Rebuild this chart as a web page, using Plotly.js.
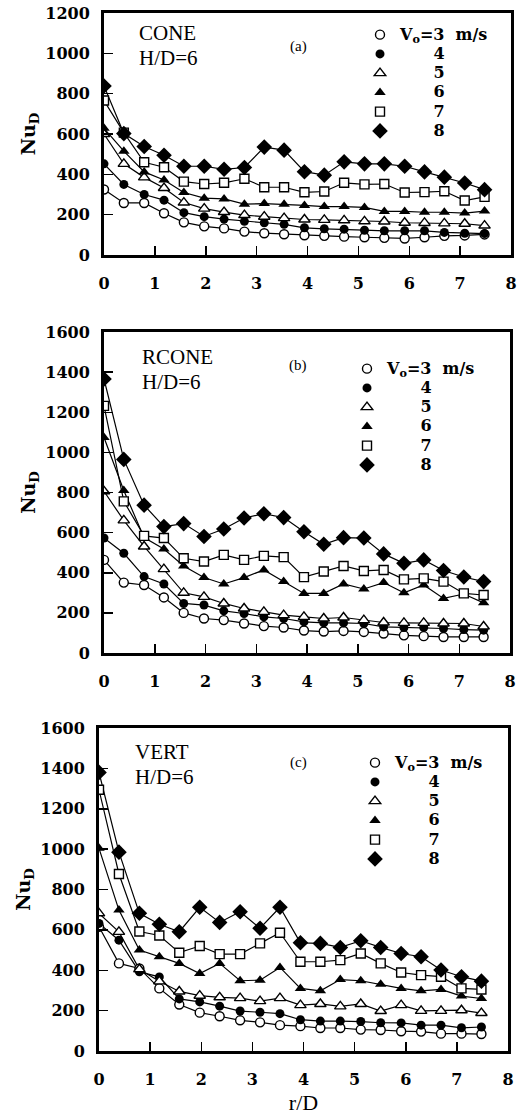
<!DOCTYPE html>
<html>
<head>
<meta charset="utf-8">
<script src="https://cdn.plot.ly/plotly-3.0.1.min.js"></script>
<style>html,body{margin:0;padding:0;background:#fff;}#chart{width:518px;height:1115px;}</style>
</head>
<body>
<div id="chart"></div>
<script>
// r/D positions (shared by all panels)
const rD = [0,0.39,0.79,1.18,1.57,1.97,2.36,2.76,3.15,3.54,3.94,4.33,4.72,5.12,5.51,5.91,6.30,6.69,7.09,7.48];

// Panel (a) CONE, H/D=6
const coneV3 = [325,258,258,207,162,142,132,116,108,103,98,95,91,88,85,82,88,95,97,102];
const coneV4 = [452,350,300,272,210,190,178,167,160,152,135,130,128,123,120,120,120,112,108,106];
const coneV5 = [600,452,385,332,260,230,213,198,190,183,176,174,172,167,166,160,159,157,155,146];
const coneV6 = [628,515,412,372,310,282,278,252,255,252,246,240,240,236,216,216,212,212,208,218];
const coneV7 = [766,607,460,435,364,352,358,378,336,336,311,315,358,350,352,310,312,316,270,288];
const coneV8 = [838,602,538,495,440,440,425,434,535,520,413,396,462,452,452,440,412,386,357,324];

// Panel (b) RCONE, H/D=6
const rconeV3 = [464,351,339,277,200,172,164,147,134,127,112,107,110,105,97,88,84,80,80,80];
const rconeV4 = [573,497,381,344,247,239,210,197,180,172,155,150,150,147,130,127,127,122,117,114];
const rconeV5 = [806,661,531,418,300,280,247,222,205,189,180,172,177,164,152,150,150,147,147,132];
const rconeV6 = [1074,810,575,518,434,376,344,376,414,356,297,297,344,319,351,300,339,272,294,250];
const rconeV7 = [1232,756,584,573,472,456,489,464,484,478,378,406,434,409,414,367,372,356,297,289];
const rconeV8 = [1366,965,737,630,645,581,618,673,694,675,604,542,575,573,494,447,464,411,379,356];

// Panel (c) VERT, H/D=6
const vertV3 = [615,434,409,310,230,190,172,152,142,128,123,114,114,106,104,98,96,86,86,84];
const vertV4 = [632,549,392,367,258,243,222,198,192,185,155,148,148,146,140,139,128,128,115,119];
const vertV5 = [682,590,405,345,295,274,266,262,247,262,227,233,221,233,198,227,199,199,202,188];
const vertV6 = [1004,698,500,467,434,384,434,348,351,414,310,298,354,348,331,310,298,305,272,260];
const vertV7 = [1294,877,592,572,487,520,480,480,533,586,442,442,450,483,434,389,376,368,310,305];
const vertV8 = [1380,985,682,628,591,712,637,690,608,712,536,533,513,546,513,483,467,401,368,346];

const speeds = ['3','4','5','6','7','8'];
const panelNames = ['CONE','RCONE','VERT'];
const panelTags = ['(a)','(b)','(c)'];
const xTicks = [0,1,2,3,4,5,6,7,8];

const panels = [
  [coneV3,coneV4,coneV5,coneV6,coneV7,coneV8],
  [rconeV3,rconeV4,rconeV5,rconeV6,rconeV7,rconeV8],
  [vertV3,vertV4,vertV5,vertV6,vertV7,vertV8]
];

const W = 518, H = 1115;
const markerStyles = [
  {symbol:'circle', size:9, color:'white', line:{color:'black', width:1.4}},
  {symbol:'circle', size:9, color:'black', line:{color:'black', width:0}},
  {symbol:'triangle-up', size:10, color:'white', line:{color:'black', width:1.4}},
  {symbol:'triangle-up', size:10, color:'black', line:{color:'black', width:0}},
  {symbol:'square', size:9, color:'white', line:{color:'black', width:1.4}},
  {symbol:'diamond', size:12, color:'black', line:{color:'black', width:0}}
];
const NB = '\u00a0';
function legendLabel(i){
  const t = i === 0 ? 'V<sub>o</sub>=3' + NB + NB + 'm/s' : NB.repeat(6) + speeds[i];
  return '<span style="font-size:16px">' + t + '</span>';
}

const traces = [];
panels.forEach((series, p) => {
  const sfx = p === 0 ? '' : String(p + 1);
  // connecting lines (not in legend)
  series.forEach((vals) => {
    traces.push({
      x: rD, y: vals, type:'scatter', mode:'lines',
      xaxis:'x' + sfx, yaxis:'y' + sfx, showlegend:false,
      line:{color:'black', width:1.2}, hoverinfo:'skip'
    });
  });
  // markers (in legend)
  series.forEach((vals, i) => {
    traces.push({
      x: rD, y: vals, type:'scatter', mode:'markers',
      xaxis:'x' + sfx, yaxis:'y' + sfx,
      legend: 'legend' + sfx,
      name: legendLabel(i),
      marker: markerStyles[i]
    });
  });
});

// pixel boxes of the three panels [left,right,top,bottom]
const boxes = [[104,511,13,255],[104,510,332,653],[99,508,728,1051]];
const yMax = [1200,1600,1600];
const tickFont = {family:'DejaVu Serif', size:16, color:'black', weight:'bold'};

const layout = {
  width:W, height:H, margin:{l:0,r:0,t:0,b:0},
  paper_bgcolor:'white', plot_bgcolor:'white', showlegend:true,
  font:{family:'DejaVu Serif', color:'black'},
  annotations:[]
};
const legendPos = [[360,20],[347,354],[355,748]];
const labelPos = [[137,33,58],[140,357,382],[133,752,777]];
boxes.forEach((b, p) => {
  const sfx = p === 0 ? '' : String(p + 1);
  const xa = {
    domain:[b[0]/W, b[1]/W], range:[0,8], anchor:'y' + sfx,
    tickvals:xTicks, ticktext:xTicks.map(String),
    ticks:'inside', ticklen:9, tickwidth:1.5, tickcolor:'black',
    showline:true, mirror:true, linewidth:3, linecolor:'black',
    showgrid:false, zeroline:false, tickfont:tickFont, ticklabelstandoff:12
  };
  if (p === 2) xa.title = {text:'r/D', font:{family:'Liberation Serif', size:22, color:'black'}, standoff:14};
  layout['xaxis' + sfx] = xa;
  const yt = [];
  for (let v = 0; v <= yMax[p]; v += 200) yt.push(v);
  layout['yaxis' + sfx] = {
    domain:[1 - b[3]/H, 1 - b[2]/H], range:[0, yMax[p]], anchor:'x' + sfx,
    tickvals:yt, ticktext:yt.map(String),
    ticks:'inside', ticklen:9, tickwidth:1.5, tickcolor:'black',
    showline:true, mirror:true, linewidth:3, linecolor:'black',
    showgrid:false, zeroline:false, tickfont:tickFont, ticklabelstandoff:8,
    title:{text:'Nu<sub>D</sub>', font:{family:'DejaVu Serif', size:19, color:'black', weight:'bold'}, standoff:5}
  };
  layout['legend' + sfx] = {
    x: legendPos[p][0]/W, y: 1 - legendPos[p][1]/H, xanchor:'left', yanchor:'top',
    bgcolor:'rgba(0,0,0,0)', borderwidth:0, tracegroupgap:0,
    font:{family:'DejaVu Serif', size:12.5, color:'black', weight:'bold'}
  };
  const lp = labelPos[p];
  layout.annotations.push({
    xref:'paper', yref:'paper', x:lp[0]/W, y:1 - lp[1]/H, xanchor:'left', yanchor:'middle',
    text: panelNames[p], showarrow:false,
    font:{family:'Liberation Serif', size:21, color:'black'}
  });
  layout.annotations.push({
    xref:'paper', yref:'paper', x:lp[0]/W, y:1 - lp[2]/H, xanchor:'left', yanchor:'middle',
    text: 'H/D=6', showarrow:false,
    font:{family:'Liberation Serif', size:21, color:'black'}
  });
  layout.annotations.push({
    xref:'paper', yref:'paper', x:298/W, y:1 - (b[2]+34)/H, xanchor:'center', yanchor:'middle',
    text: panelTags[p], showarrow:false,
    font:{family:'Liberation Serif', size:15, color:'black'}
  });
});

Plotly.newPlot('chart', traces, layout, {staticPlot:true, displayModeBar:false});
</script>
</body>
</html>
